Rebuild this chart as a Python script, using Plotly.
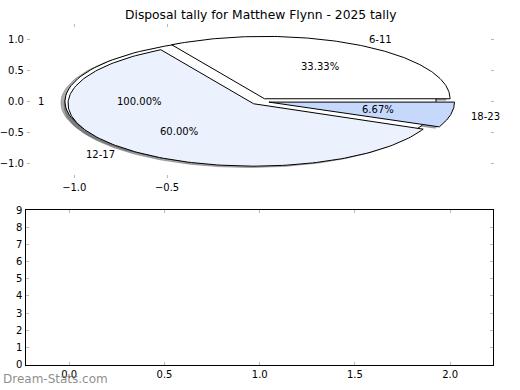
import numpy as np
import plotly.graph_objects as go

# ---- data ----
categories = ["6-11", "12-17", "18-23"]
values = [5, 9, 1]
colors = ["#ffffff", "#ebf1fd", "#c6d9fd"]
bg_labels = ["1"]
bg_values = [1]
title = "Disposal tally for Matthew Flynn - 2025 tally"
top_yticks = [-1.0, -0.5, 0.0, 0.5, 1.0]
top_xticks = [-1.0, -0.5]

EXPLODE = 0.05
SHADOW = -0.022
FONT = "DejaVu Sans"

fig = go.Figure()


def wedge_xy(cx, cy, r, t1, t2):
    th = np.radians(np.linspace(t1, t2, 160))
    xs = cx + r * np.cos(th)
    ys = cy + r * np.sin(th)
    if abs((t2 - t1) - 360) < 1e-9:
        return list(xs), list(ys)
    return [cx] + list(xs) + [cx], [cy] + list(ys) + [cy]


def shade(hexcol):
    h = hexcol.lstrip("#")
    r, g, b = (int(h[i:i + 2], 16) for i in (0, 2, 4))
    return f"rgba({int(r*0.3)},{int(g*0.3)},{int(b*0.3)},0.45)"


def pie_geometry(vals, explode):
    total = float(sum(vals))
    angles = np.cumsum([0] + [v / total * 360 for v in vals])
    geo = []
    for i in range(len(vals)):
        t1, t2 = angles[i], angles[i + 1]
        mid = np.radians((t1 + t2) / 2)
        geo.append((explode * np.cos(mid), explode * np.sin(mid), t1, t2, mid))
    return geo, total


pies = [(bg_labels, bg_values), (categories, values)]
geos = [pie_geometry(v, EXPLODE) for _, v in pies]

# all shadows below all wedges
for (labels, vals), (geo, total) in zip(pies, geos):
    for i, (cx, cy, t1, t2, mid) in enumerate(geo):
        xs, ys = wedge_xy(cx + SHADOW, cy + SHADOW, 1.0, t1, t2)
        sc = shade(colors[i % len(colors)])
        fig.add_trace(go.Scatter(x=xs, y=ys, mode="lines", fill="toself",
                                 fillcolor=sc, line=dict(color=sc, width=0.8),
                                 hoverinfo="skip", showlegend=False,
                                 xaxis="x", yaxis="y"))

annotations = []
for (labels, vals), (geo, total) in zip(pies, geos):
    for i, (cx, cy, t1, t2, mid) in enumerate(geo):
        xs, ys = wedge_xy(cx, cy, 1.0, t1, t2)
        fig.add_trace(go.Scatter(x=xs, y=ys, mode="lines", fill="toself",
                                 fillcolor=colors[i % len(colors)],
                                 line=dict(color="black", width=1),
                                 hoverinfo="skip", showlegend=False,
                                 xaxis="x", yaxis="y"))
        lx = cx + 1.1 * np.cos(mid)
        ly = cy + 1.1 * np.sin(mid)
        annotations.append(dict(x=lx, y=ly, xref="x", yref="y", text=labels[i],
                                showarrow=False,
                                xanchor="left" if lx > 0 else "right",
                                yanchor="middle",
                                font=dict(family=FONT, size=10, color="black")))
        px = cx + 0.6 * np.cos(mid)
        py = cy + 0.6 * np.sin(mid)
        annotations.append(dict(x=px, y=py, xref="x", yref="y",
                                text=f"{vals[i] / total * 100:.2f}%",
                                showarrow=False, xanchor="center", yanchor="middle",
                                font=dict(family=FONT, size=10, color="black")))

# empty trace for the lower axes
fig.add_trace(go.Scatter(x=[], y=[], xaxis="x2", yaxis="y2", showlegend=False))

annotations.append(dict(x=0.5, y=1 - 10 / 390, xref="paper", yref="paper",
                        text=title, showarrow=False, xanchor="center", yanchor="middle",
                        font=dict(family=FONT, size=12.3, color="black")))
annotations.append(dict(x=0, y=1 - 384 / 390, xref="paper", yref="paper",
                        text="Dream-Stats.com", showarrow=False, xanchor="left",
                        yanchor="middle",
                        font=dict(family=FONT, size=12, color="rgba(120,120,120,0.85)")))

tickfont = dict(family=FONT, size=10, color="black")
tcol = "#b8b8b8"

fig.update_layout(
    width=520, height=390,
    margin=dict(l=0, r=0, t=0, b=0),
    paper_bgcolor="white", plot_bgcolor="rgba(0,0,0,0)",
    showlegend=False,
    annotations=annotations,
    xaxis=dict(domain=[0.05, 0.95], anchor="y", range=[-1.255, 1.262],
               tickvals=top_xticks, tickformat=".1f", ticks="inside", ticklen=3,
               tickcolor=tcol, mirror="ticks", showline=False, showgrid=False,
               zeroline=False, tickfont=tickfont, ticklabelstandoff=2, fixedrange=True),
    yaxis=dict(domain=[1 - 178 / 390, 1 - 20 / 390], anchor="x", range=[-1.234, 1.234],
               tickvals=top_yticks, tickformat=".1f", ticks="inside", ticklen=3,
               tickcolor=tcol, mirror="ticks", showline=False, showgrid=False,
               zeroline=False, tickfont=tickfont, ticklabelstandoff=2, fixedrange=True),
    xaxis2=dict(domain=[0.049, 0.948], anchor="y2", range=[-0.225, 2.225],
                tick0=0, dtick=0.5, tickformat=".1f", ticks="inside", ticklen=3,
                tickcolor=tcol, mirror="ticks", showline=True, linecolor="black",
                linewidth=1, showgrid=False, zeroline=False, tickfont=tickfont,
                fixedrange=True),
    yaxis2=dict(domain=[1 - 369 / 390, 1 - 210.5 / 390], anchor="x2", range=[0, 9],
                tick0=0, dtick=1, ticks="inside", ticklen=3,
                tickcolor=tcol, mirror="ticks", showline=True, linecolor="black",
                linewidth=1, showgrid=False, zeroline=False, tickfont=tickfont,
                ticklabelstandoff=1, fixedrange=True),
)

fig.write_html("out.html", config={"displayModeBar": False},
               post_script="document.body.style.margin='0';")
